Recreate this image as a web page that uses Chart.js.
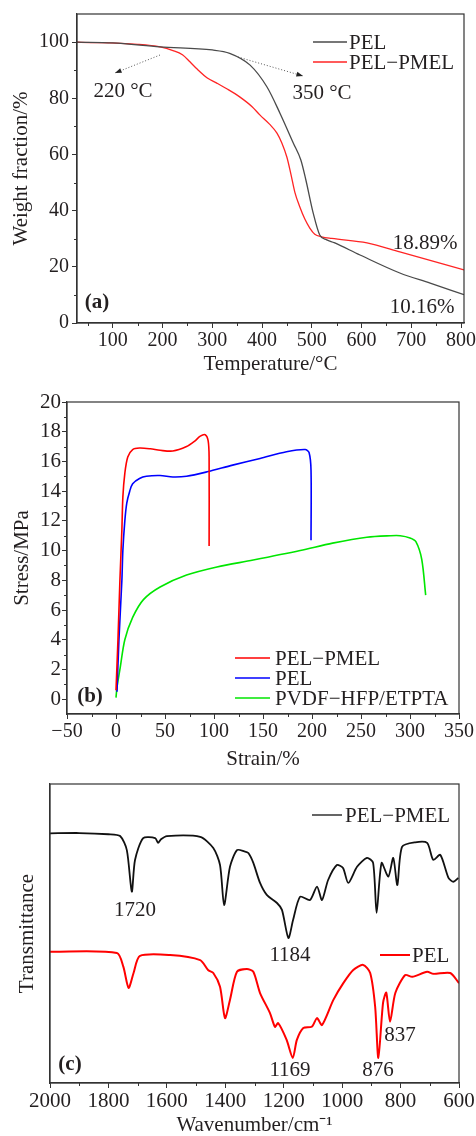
<!DOCTYPE html>
<html>
<head>
<meta charset="utf-8">
<script src="https://cdn.jsdelivr.net/npm/chart.js@4.4.1/dist/chart.umd.min.js"></script>
<style>
body{margin:0;background:#fff;width:476px;height:1136px;overflow:hidden;position:relative;}
.box{position:absolute;left:0;width:476px;}
</style>
</head>
<body>
<div class="box" style="top:0;height:375px"><canvas id="tgaChart"></canvas></div>
<div class="box" style="top:375px;height:395px"><canvas id="stressChart"></canvas></div>
<div class="box" style="top:765px;height:371px"><canvas id="ftirChart"></canvas></div>
<script>
var FONT = '"Liberation Serif", "Times New Roman", serif';
var INK = '#231f20';

// (a) TGA
var tgaTempPEL = [28, 100, 195, 300, 335, 376, 410, 436, 463, 478, 488, 503, 516, 530, 545, 597, 677, 738, 806];
var tgaWeightPEL = [100, 99.7, 98.3, 97.2, 96, 91.8, 84, 74.7, 64, 58, 51, 39, 31.3, 29.6, 28.6, 24.2, 17.8, 14.2, 10.1];
var tgaTempPMEL = [28, 150, 195, 221, 240, 255, 270, 290, 309, 330, 355, 380, 396, 415, 430, 440, 450, 458, 466, 476, 486, 496, 506, 520, 540, 611, 677, 806];
var tgaWeightPMEL = [100, 99.2, 98.3, 97, 95.5, 93, 90.3, 87.2, 85.4, 83.3, 80.5, 77, 74, 70.8, 67.6, 64, 59, 53, 46.5, 41.3, 37, 33.8, 31.6, 30.7, 30.1, 28.5, 25.3, 18.9];
var tgaTempTicks = [100, 200, 300, 400, 500, 600, 700, 800];
var tgaTempMinor = [50, 150, 250, 350, 450, 550, 650, 750];
var tgaWeightTicks = [0, 20, 40, 60, 80, 100];
var tgaWeightMinor = [10, 30, 50, 70, 90];

// (b) stress-strain
var strainPMEL = [0, 2, 4, 6, 7, 9, 12, 17, 24, 35, 45, 58, 72, 80, 86, 91, 94, 95, 95];
var stressPMEL = [0.6, 4, 8, 11.4, 13.6, 15.2, 16.3, 16.8, 16.9, 16.85, 16.75, 16.7, 17.0, 17.35, 17.7, 17.8, 17.4, 16.3, 10.3];
var strainPEL = [1, 3, 6, 7, 9, 11, 14, 17, 24, 31, 45, 58, 72, 93, 119, 147, 174, 193, 197, 199, 199];
var stressPEL = [0.5, 4, 8, 10, 12, 13.2, 14.0, 14.5, 14.85, 15.0, 15.05, 14.95, 15.0, 15.3, 15.75, 16.2, 16.65, 16.8, 16.6, 15.4, 10.7];
var strainPVDF = [0, 1, 4, 9, 17, 28, 45, 72, 103, 140, 188, 221, 256, 280, 290, 300, 306, 312, 316];
var stressPVDF = [0.1, 0.8, 2.0, 4.0, 5.5, 6.7, 7.55, 8.35, 8.9, 9.36, 10.0, 10.5, 10.9, 11.0, 11.0, 10.85, 10.6, 9.4, 7.0];
var strainTicks = [-50, 0, 50, 100, 150, 200, 250, 300, 350];
var strainMinor = [-25, 25, 75, 125, 175, 225, 275, 325];
var stressTicks = [0, 2, 4, 6, 8, 10, 12, 14, 16, 18, 20];
var stressMinor = [1, 3, 5, 7, 9, 11, 13, 15, 17, 19];

// (c) FTIR
var wnPMEL = [2000, 1900, 1800, 1760, 1737, 1720, 1709, 1681, 1640, 1630, 1620, 1600, 1486, 1441, 1418, 1404, 1384, 1360, 1335, 1321, 1304, 1281, 1258, 1223, 1206, 1184, 1168, 1144, 1110, 1086, 1069, 1048, 1018, 997, 979, 949, 915, 894, 882, 865, 842, 825, 811, 795, 750, 709, 688, 664, 636, 619, 602];
var trPMEL = [83.5, 83.6, 83.2, 82.6, 77.9, 64, 74.6, 81.9, 81.9, 80.3, 81.5, 82.6, 82.3, 78.6, 72.9, 59.5, 72.3, 77.9, 77.5, 76.9, 73.6, 66.9, 62.9, 60.2, 57.9, 48.5, 54.5, 62.3, 61.2, 65.7, 61.2, 67.9, 72.9, 71.9, 66.9, 72.3, 75.3, 73.6, 56.9, 73.6, 69, 75.3, 66.2, 79, 80.5, 80.3, 74.6, 76.3, 68.6, 67.3, 68.6];
var wnPEL = [2000, 1771, 1749, 1731, 1714, 1692, 1589, 1486, 1459, 1441, 1418, 1401, 1384, 1360, 1326, 1304, 1281, 1247, 1230, 1219, 1190, 1169, 1155, 1133, 1104, 1086, 1069, 1030, 996, 962, 928, 904, 887, 876, 860, 849, 836, 818, 784, 760, 709, 688, 630, 600];
var trPEL = [43.9, 43.5, 38.9, 31.8, 36.8, 42.5, 42.8, 41.1, 37.8, 36.8, 32.2, 21.7, 27.8, 37.2, 38.1, 37.2, 30.1, 23.4, 18.8, 20, 14.4, 8.4, 14.4, 18.4, 18.8, 21.7, 19.4, 27.8, 33.4, 37.8, 39.5, 36.8, 25.5, 8.4, 26.8, 30.2, 20.5, 30.1, 36.1, 35.5, 37.2, 36.5, 36.8, 33.4];
var wnTicks = [2000, 1800, 1600, 1400, 1200, 1000, 800, 600];
var wnMinor = [1900, 1700, 1500, 1300, 1100, 900, 700];

Chart.defaults.font.family = FONT;
Chart.defaults.color = INK;

function points(xs, ys) {
	return xs.map(function(x, i) { return {x: x, y: ys[i]}; });
}

function minus(v) {
	return String(v).replace('-', '\u2212');
}

// axis with fixed ticks and a fixed box size, so the plot area sits where the figure has it
function axis(min, max, major, minor, size, horizontal, fontSize, title, titlePad) {
	return {
		type: 'linear',
		min: min,
		max: max,
		minorTicks: minor,
		afterBuildTicks: function(scale) {
			scale.ticks = major.map(function(v) { return {value: v}; });
		},
		afterFit: function(scale) {
			if (horizontal) scale.height = size; else scale.width = size;
			scale.paddingLeft = 0; scale.paddingRight = 0;
			scale.paddingTop = 0; scale.paddingBottom = 0;
		},
		grid: {drawOnChartArea: false, drawTicks: true, tickLength: 5, color: '#333', lineWidth: 1},
		border: {display: true, color: '#333', width: 1.2},
		ticks: {
			autoSkip: false,
			maxRotation: 0,
			padding: horizontal ? 1 : 3,
			font: {size: fontSize},
			color: INK,
			callback: function(value) { return minus(value); }
		},
		title: {display: true, text: title, font: {size: 21, lineHeight: 1}, color: INK, padding: titlePad}
	};
}

// shorter ticks between the labelled ones
function drawMinor(chart) {
	var ctx = chart.ctx;
	ctx.save();
	ctx.strokeStyle = '#333';
	ctx.lineWidth = 1;
	['x', 'y'].forEach(function(id) {
		var scale = chart.scales[id];
		var minor = scale.options.minorTicks || [];
		minor.forEach(function(v) {
			var p = Math.round(scale.getPixelForValue(v)) + 0.5;
			ctx.beginPath();
			if (id === 'x') {
				ctx.moveTo(p, scale.top);
				ctx.lineTo(p, scale.top + 3);
			} else {
				ctx.moveTo(scale.right, p);
				ctx.lineTo(scale.right - 3, p);
			}
			ctx.stroke();
		});
	});
	ctx.restore();
}

function frame(ctx, area) {
	ctx.save();
	ctx.strokeStyle = '#333';
	ctx.lineWidth = 1.2;
	ctx.strokeRect(area.left, area.top, area.right - area.left, area.bottom - area.top);
	ctx.restore();
}

function label(ctx, str, x, y, align, bold) {
	ctx.save();
	ctx.fillStyle = INK;
	ctx.font = (bold ? 'bold ' : '') + '21px ' + FONT;
	ctx.textAlign = align || 'center';
	ctx.textBaseline = 'middle';
	ctx.fillText(str, x, y);
	ctx.restore();
}

function legendLine(ctx, x1, x2, y, color, width) {
	ctx.save();
	ctx.strokeStyle = color;
	ctx.lineWidth = width;
	ctx.beginPath();
	ctx.moveTo(x1, y);
	ctx.lineTo(x2, y);
	ctx.stroke();
	ctx.restore();
}

function dottedArrow(ctx, x1, y1, x2, y2) {
	ctx.save();
	ctx.strokeStyle = '#444';
	ctx.fillStyle = '#222';
	ctx.lineWidth = 0.9;
	ctx.setLineDash([1, 2]);
	ctx.beginPath();
	ctx.moveTo(x1, y1);
	ctx.lineTo(x2, y2);
	ctx.stroke();
	var a = Math.atan2(y2 - y1, x2 - x1);
	ctx.setLineDash([]);
	ctx.beginPath();
	ctx.moveTo(x2, y2);
	ctx.lineTo(x2 - 7 * Math.cos(a - 0.35), y2 - 7 * Math.sin(a - 0.35));
	ctx.lineTo(x2 - 7 * Math.cos(a + 0.35), y2 - 7 * Math.sin(a + 0.35));
	ctx.closePath();
	ctx.fill();
	ctx.restore();
}

function baseOptions(pad) {
	return {
		responsive: true,
		maintainAspectRatio: false,
		animation: false,
		layout: {padding: pad},
		plugins: {legend: {display: false}, tooltip: {enabled: false}},
		elements: {point: {radius: 0}}
	};
}

function loadTga() {
	var opts = baseOptions({top: 14, right: 12, left: 0, bottom: 0});
	opts.scales = {
		x: axis(28, 806, tgaTempTicks, tgaTempMinor, 52, true, 20, 'Temperature/\u00B0C', {top: 0, bottom: 0}),
		y: axis(0, 110, tgaWeightTicks, tgaWeightMinor, 77, false, 20, 'Weight fraction/%', {top: 11, bottom: 0})
	};
	new Chart(document.getElementById('tgaChart'), {
		type: 'line',
		data: {
			datasets: [
				{label: 'PEL', data: points(tgaTempPEL, tgaWeightPEL), borderColor: '#4a4a4a', borderWidth: 1.3, cubicInterpolationMode: 'monotone'},
				{label: 'PEL\u2212PMEL', data: points(tgaTempPMEL, tgaWeightPMEL), borderColor: '#ff2424', borderWidth: 1.3, cubicInterpolationMode: 'monotone'}
			]
		},
		options: opts,
		plugins: [{
			id: 'decorA',
			afterDraw: function(chart) {
				var ctx = chart.ctx;
				frame(ctx, chart.chartArea);
				drawMinor(chart);
				legendLine(ctx, 313, 347, 42, '#4a4a4a', 1.3);
				label(ctx, 'PEL', 349, 43, 'left');
				legendLine(ctx, 313, 347, 62, '#ff2424', 1.3);
				label(ctx, 'PEL\u2212PMEL', 349, 63, 'left');
				dottedArrow(ctx, 160, 55, 115, 73);
				label(ctx, '220 \u00B0C', 123, 91);
				dottedArrow(ctx, 238, 57, 303, 76);
				label(ctx, '350 \u00B0C', 322, 93);
				label(ctx, '18.89%', 425, 243);
				label(ctx, '10.16%', 422, 307);
				label(ctx, '(a)', 97, 303, 'center', true);
			}
		}]
	});
}

function loadStress() {
	var opts = baseOptions({top: 27, right: 17, left: 0, bottom: 0});
	opts.scales = {
		x: axis(-50, 350, strainTicks, strainMinor, 56, true, 20, 'Strain/%', {top: 0, bottom: 0}),
		y: axis(-1, 20, stressTicks, stressMinor, 67, false, 21, 'Stress/MPa', {top: 12, bottom: 0})
	};
	opts.scales.y.ticks.padding = 1;
	new Chart(document.getElementById('stressChart'), {
		type: 'line',
		data: {
			datasets: [
				{label: 'PEL\u2212PMEL', data: points(strainPMEL, stressPMEL), borderColor: '#ff0000', borderWidth: 1.6, tension: 0.3},
				{label: 'PEL', data: points(strainPEL, stressPEL), borderColor: '#0000ff', borderWidth: 1.6, tension: 0.3},
				{label: 'PVDF\u2212HFP/ETPTA', data: points(strainPVDF, stressPVDF), borderColor: '#00e600', borderWidth: 1.6, tension: 0.3}
			]
		},
		options: opts,
		plugins: [{
			id: 'decorB',
			afterDraw: function(chart) {
				var ctx = chart.ctx;
				frame(ctx, chart.chartArea);
				drawMinor(chart);
				var ys = [283, 303, 323];
				chart.data.datasets.forEach(function(ds, i) {
					legendLine(ctx, 235, 270, ys[i], ds.borderColor, 1.6);
					label(ctx, ds.label, 275, ys[i] + 1, 'left');
				});
				label(ctx, '(b)', 90, 322, 'center', true);
			}
		}]
	});
}

function loadFtir() {
	var opts = baseOptions({top: 19, right: 17, left: 0, bottom: 0});
	var x = axis(600, 2000, wnTicks, wnMinor, 53, true, 21, 'Wavenumber/cm\u207B\u00B9', {top: 0, bottom: 0});
	x.reverse = true;
	var y = {
		type: 'linear', min: 0, max: 100,
		afterFit: function(scale) { scale.width = 50; },
		grid: {display: false},
		border: {display: true, color: '#333', width: 1.2},
		ticks: {display: false},
		title: {display: true, text: 'Transmittance', font: {size: 21, lineHeight: 1}, color: INK, padding: {top: 17, bottom: 0}}
	};
	opts.scales = {x: x, y: y};
	new Chart(document.getElementById('ftirChart'), {
		type: 'line',
		data: {
			datasets: [
				{label: 'PEL\u2212PMEL', data: points(wnPMEL, trPMEL), borderColor: '#111111', borderWidth: 1.8, tension: 0.25},
				{label: 'PEL', data: points(wnPEL, trPEL), borderColor: '#ff0000', borderWidth: 2, tension: 0.25}
			]
		},
		options: opts,
		plugins: [{
			id: 'decorC',
			afterDraw: function(chart) {
				var ctx = chart.ctx;
				frame(ctx, chart.chartArea);
				drawMinor(chart);
				legendLine(ctx, 312, 342, 50, '#111111', 1.3);
				label(ctx, 'PEL\u2212PMEL', 345, 51, 'left');
				legendLine(ctx, 380, 410, 190, '#ff0000', 2);
				label(ctx, 'PEL', 412, 191, 'left');
				label(ctx, '1720', 135, 145);
				label(ctx, '1184', 290, 190);
				label(ctx, '1169', 290, 305);
				label(ctx, '876', 378, 305);
				label(ctx, '837', 400, 270);
				label(ctx, '(c)', 70, 300, 'center', true);
			}
		}]
	});
}

loadTga();
loadStress();
loadFtir();
</script>
</body>
</html>
